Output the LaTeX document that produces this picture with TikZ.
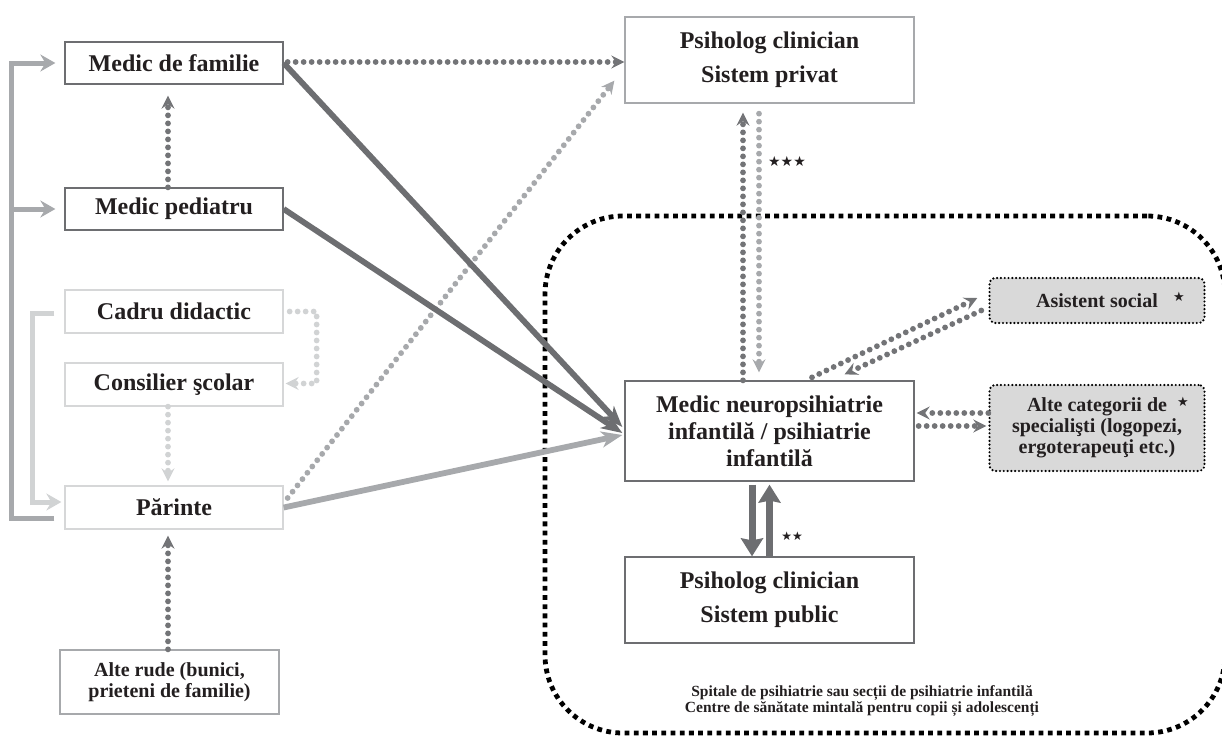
\documentclass[tikz,border=0pt]{standalone}
\usepackage{fontspec}
\setmainfont{Liberation Serif}
\newfontfamily\symf{DejaVu Sans}
\usetikzlibrary{arrows.meta,calc}
\definecolor{dk}{HTML}{6D6E71}
\definecolor{dkd}{HTML}{737477}
\definecolor{md}{HTML}{A7A9AC}
\definecolor{lt}{HTML}{D1D3D4}
\definecolor{ltb}{HTML}{D6D7D8}
\definecolor{txt}{HTML}{231F20}
\definecolor{boxfill}{HTML}{D9D9D9}
\begin{document}
\begin{tikzpicture}[x=1pt,y=-1pt,
  bigf/.style={font=\fontsize{24}{28}\selectfont\bfseries},
  smallf/.style={font=\fontsize{20}{21}\selectfont\bfseries},
  basebox/.style={inner sep=0pt, align=center, text=txt, fill=white, line width=1.3pt},
  boxD/.style={basebox, draw=dk},
  boxL/.style={basebox, draw=ltb},
  boxM/.style={basebox, draw=md},
  dotbox/.style={basebox, fill=boxfill, draw=black, line width=2.4pt, line cap=round, dash pattern=on 0pt off 3.8pt, rounded corners=6pt},
  regionbox/.style={draw=black, line width=4.8pt, dash pattern=on 4.8pt off 4.4pt, rounded corners=78pt, inner sep=0pt},
  dtip/.style={-{Stealth[length=13pt,width=13pt,inset=4.5pt]}},
  ddot/.style={draw=dkd, line width=5.8pt, line cap=round, dash pattern=on 0pt off 8pt, dtip},
  mdot/.style={draw=md, line width=5.8pt, line cap=round, dash pattern=on 0pt off 8pt, dtip},
  ldot/.style={draw=lt, line width=5.8pt, line cap=round, dash pattern=on 0pt off 8pt, dtip},
  gbar/.style={draw=md, line width=5pt, -{Stealth[length=15pt,width=17pt,inset=5pt]}},
  lbar/.style={draw=lt, line width=5pt, -{Stealth[length=15pt,width=17pt,inset=5pt]}},
  dkarrow/.style={draw=dk, line width=5.8pt, -{Stealth[length=21pt,width=16pt,inset=6pt]}},
  mdarrow/.style={draw=md, line width=5.8pt, -{Stealth[length=21pt,width=16pt,inset=6pt]}},
  pubarrow/.style={draw=dk, line width=7pt, -{Stealth[length=18pt,width=22pt,inset=2pt]}},
  starf/.style={font=\symf\fontsize{14}{14}\selectfont, text=txt, inner sep=0pt}
]
\useasboundingbox (0,0) rectangle (1222,736);

% region
\node[regionbox, minimum width=680pt, minimum height=517pt] (reg) at (885,474.5) {};
\node[font=\fontsize{15.5}{16.5}\selectfont\bfseries, text=txt, align=center, inner sep=0pt] (regtxt) at (862,701)
  {Spitale de psihiatrie sau secții de psihiatrie infantilă\\Centre de sănătate mintală pentru copii și adolescenți};

% boxes
\node[boxD, bigf, minimum width=218pt, minimum height=42pt] (fam) at (174,63) {Medic de familie};
\node[boxD, bigf, minimum width=218pt, minimum height=42pt] (ped) at (174,209) {Medic pediatru};
\node[boxL, bigf, minimum width=218pt, minimum height=43pt] (cad) at (174,311.5) {Cadru didactic};
\node[boxL, bigf, minimum width=218pt, minimum height=43pt] (cons) at (174,384.5) {Consilier şcolar};
\node[boxL, bigf, minimum width=218pt, minimum height=43pt] (par) at (174,507.5) {Părinte};
\node[boxM, smallf, minimum width=219pt, minimum height=64pt] (rude) at (169.5,682) {Alte rude (bunici,\\prieteni de familie)};
\node[boxM, font=\fontsize{24}{34}\selectfont\bfseries, minimum width=289pt, minimum height=86pt] (priv) at (769.5,60) {Psiholog clinician\\Sistem privat};
\node[boxD, font=\fontsize{24}{27}\selectfont\bfseries, minimum width=289pt, minimum height=100pt] (neuro) at (769.5,431) {Medic neuropsihiatrie\\infantilă / psihiatrie\\infantilă};
\node[boxD, font=\fontsize{24}{34}\selectfont\bfseries, minimum width=289pt, minimum height=86pt] (pub) at (769.5,600) {Psiholog clinician\\Sistem public};
\node[dotbox, smallf, minimum width=215pt, minimum height=45pt] (asis) at (1097,300.5) {Asistent social};
\node[dotbox, smallf, minimum width=215pt, minimum height=86pt] (alte) at (1097,428) {Alte categorii de\\specialişti (logopezi,\\ergoterapeuţi etc.)};

% stars
\node[starf] (s3) at (787,161) {★★★};
\node[starf, font=\symf\fontsize{12}{12}\selectfont] (s2) at (792,536) {★★};
\node[starf, font=\symf\fontsize{13}{13}\selectfont] (s1a) at (1179,297) {★};
\node[starf, font=\symf\fontsize{13}{13}\selectfont] (s1b) at (1183,402) {★};

% left brackets
\draw[gbar] ($(par.west)+(-10,10.5)$) -| ($(fam.west)+(-53,0)$) -- ($(fam.west)+(-9,0)$);
\draw[gbar] ($(ped.west)+(-53,0)$) -- ($(ped.west)+(-9,0)$);
\draw[lbar] ($(cad.west)+(-10,1.5)$) -- ($(cad.west)+(-32,1.5)$) |- ($(par.west)+(-3,-5.5)$);

% left dotted
\draw[ddot] ($(ped.north)+(-6,0)$) -- ($(fam.south)+(-6,11)$);
\draw[ldot] ($(cad.east)+(6,0)$) -- ($(cad.east)+(33,0)$) |- ($(cons.east)+(2,-1)$);
\draw[ldot] ($(cons.south)+(-6,0)$) -- ($(par.north)+(-6,-4)$);
\draw[ddot] ($(rude.north)+(-1.5,0)$) -- ($(par.south)+(-6,6)$);

% to private psychologist
\draw[ddot] ($(fam.east)+(4,-1)$) -- ($(priv.west)+(0,2)$);
\draw[mdot] ($(par.east)+(4,-9.5)$) -- ($(priv.south west)+(-10,-23)$);

% thick arrows to neuro
\draw[dkarrow] (fam.east) -- ($(neuro.west)+(-2,-4)$);
\draw[dkarrow] (ped.east) -- ($(neuro.west)+(-2,2)$);
\draw[mdarrow] (par.east) -- ($(neuro.west)+(-2,4)$);

% neuro <-> private
\draw[ddot] ($(neuro.north)+(-26.5,0)$) -- ($(priv.south)+(-26.5,9)$);
\draw[mdot] ($(priv.south)+(-10.5,10)$) -- ($(neuro.north)+(-10.5,-8)$);

% neuro <-> social worker
\draw[ddot] ($(neuro.north)+(42.5,-3)$) -- ($(asis.west)+(-11,-2.5)$);
\draw[ddot] ($(asis.west)+(-7,10)$) -- ($(neuro.north)+(75,-6)$);

% neuro <-> other specialists
\draw[ddot] ($(alte.west)+(0,-15)$) -- ($(neuro.east)+(2,-18)$);
\draw[ddot] ($(neuro.east)+(4,-5)$) -- ($(alte.west)+(-2,-2)$);

% neuro <-> public psychologist
\draw[pubarrow] ($(neuro.south)+(-17.5,3)$) -- ($(pub.north)+(-17.5,0)$);
\draw[pubarrow] (pub.north) -- ($(neuro.south)+(0,3)$);
\end{tikzpicture}
\end{document}
